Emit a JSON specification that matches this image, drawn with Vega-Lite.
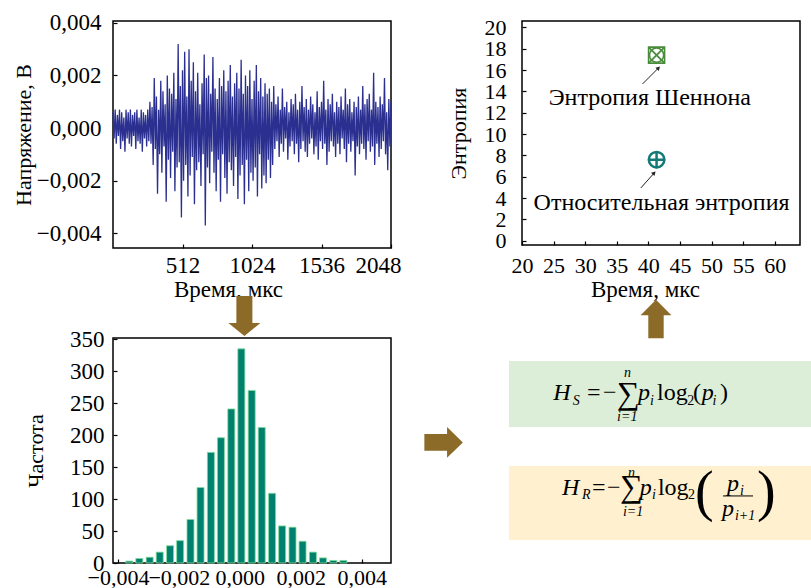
{
  "$schema": "https://vega.github.io/schema/vega-lite/v6.json",
  "background": "white",
  "padding": {"left": 11, "top": 11, "right": 0, "bottom": 0},
  "columns": 2,
  "spacing": {"row": 90, "column": 131},
  "bounds": "flush",
  "datasets": {
    "signal": [
      {"t":0,"v":0.0006},{"t":8,"v":-0.0004},{"t":16,"v":0.0007},{"t":24,"v":-0.0006},{"t":32,"v":0.0005},{"t":40,"v":-0.0003},{"t":48,"v":0.0007},{"t":56,"v":-0.0008},{"t":64,"v":0.0006},{"t":72,"v":-0.0005},{"t":80,"v":0.0004},{"t":88,"v":-0.0009},{"t":96,"v":0.0007},{"t":104,"v":-0.0004},{"t":112,"v":0.0006},{"t":120,"v":-0.0006},{"t":128,"v":0.0007},{"t":136,"v":-0.0007},{"t":144,"v":0.0005},{"t":152,"v":-0.0003},{"t":160,"v":0.0006},{"t":168,"v":-0.0008},{"t":176,"v":0.0007},{"t":184,"v":-0.0005},{"t":192,"v":0.0004},{"t":200,"v":-0.0006},{"t":208,"v":0.0007},{"t":216,"v":-0.0009},{"t":224,"v":0.0006},{"t":232,"v":-0.0004},{"t":240,"v":0.0005},{"t":248,"v":-0.0007},{"t":256,"v":0.0007},{"t":264,"v":-0.0005},
      {"t":272,"v":0.0010},{"t":280,"v":-0.0006},{"t":288,"v":0.0008},{"t":296,"v":-0.0014},{"t":304,"v":0.0019},{"t":312,"v":-0.0008},{"t":320,"v":0.0012},{"t":328,"v":-0.0025},{"t":336,"v":0.0007},{"t":344,"v":-0.0010},{"t":352,"v":0.0018},{"t":360,"v":-0.0017},{"t":368,"v":0.0014},{"t":376,"v":-0.0007},{"t":384,"v":0.0009},{"t":392,"v":-0.0028},{"t":400,"v":0.0020},{"t":408,"v":-0.0012},{"t":416,"v":0.0015},{"t":424,"v":-0.0019},{"t":432,"v":0.0013},{"t":440,"v":-0.0009},{"t":448,"v":0.0021},{"t":456,"v":-0.0024},{"t":464,"v":0.0011},{"t":472,"v":-0.0015},{"t":480,"v":0.0032},{"t":488,"v":-0.0013},
      {"t":496,"v":0.0016},{"t":504,"v":-0.0034},{"t":512,"v":0.0022},{"t":520,"v":-0.0020},{"t":528,"v":0.0029},{"t":536,"v":-0.0014},{"t":544,"v":0.0012},{"t":552,"v":-0.0026},{"t":560,"v":0.0030},{"t":568,"v":-0.0018},{"t":576,"v":0.0018},{"t":584,"v":-0.0011},{"t":592,"v":0.0025},{"t":600,"v":-0.0029},{"t":608,"v":0.0014},{"t":616,"v":-0.0016},{"t":624,"v":0.0021},{"t":632,"v":-0.0013},{"t":640,"v":0.0009},{"t":648,"v":-0.0022},{"t":656,"v":0.0017},{"t":664,"v":-0.0010},{"t":672,"v":0.0028},{"t":680,"v":-0.0037},{"t":688,"v":0.0019},
      {"t":696,"v":-0.0015},{"t":704,"v":0.0020},{"t":712,"v":-0.0021},{"t":720,"v":0.0013},{"t":728,"v":-0.0009},{"t":736,"v":0.0027},{"t":744,"v":-0.0017},{"t":752,"v":0.0015},{"t":760,"v":-0.0024},{"t":768,"v":0.0011},{"t":776,"v":-0.0012},{"t":784,"v":0.0019},{"t":792,"v":-0.0028},{"t":800,"v":0.0016},{"t":808,"v":-0.0010},{"t":816,"v":0.0022},{"t":824,"v":-0.0019},{"t":832,"v":0.0014},{"t":840,"v":-0.0025},{"t":848,"v":0.0018},{"t":856,"v":-0.0013},{"t":864,"v":0.0024},{"t":872,"v":-0.0016},{"t":880,"v":0.0012},{"t":888,"v":-0.0022},{"t":896,"v":0.0017},{"t":904,"v":-0.0011},{"t":912,"v":0.0021},{"t":920,"v":-0.0027},{"t":928,"v":0.0015},{"t":936,"v":-0.0018},{"t":944,"v":0.0026},{"t":952,"v":-0.0014},{"t":960,"v":0.0013},{"t":968,"v":-0.0029},{"t":976,"v":0.0020},{"t":984,"v":-0.0012},{"t":992,"v":0.0016},{"t":1000,"v":-0.0024},{"t":1008,"v":0.0022},{"t":1016,"v":-0.0017},{"t":1024,"v":0.0011},{"t":1032,"v":-0.0020},{"t":1040,"v":0.0018},{"t":1048,"v":-0.0015},{"t":1056,"v":0.0024},{"t":1064,"v":-0.0026},{"t":1072,"v":0.0014},{"t":1080,"v":-0.0010},{"t":1088,"v":0.0019},{"t":1096,"v":-0.0023},{"t":1104,"v":0.0012},{"t":1112,"v":-0.0018},{"t":1120,"v":0.0017},{"t":1128,"v":-0.0021},{"t":1136,"v":0.0013},{"t":1144,"v":-0.0012},{"t":1152,"v":0.0015},{"t":1160,"v":-0.0019},{"t":1168,"v":0.0010},{"t":1176,"v":-0.0014},{"t":1184,"v":0.0016},
      {"t":1192,"v":-0.0008},{"t":1200,"v":0.0009},{"t":1208,"v":-0.0005},{"t":1216,"v":0.0012},{"t":1224,"v":-0.0011},{"t":1232,"v":0.0007},{"t":1240,"v":-0.0006},{"t":1248,"v":0.0015},{"t":1256,"v":-0.0009},{"t":1264,"v":0.0008},{"t":1272,"v":-0.0004},{"t":1280,"v":0.0010},{"t":1288,"v":-0.0012},{"t":1296,"v":0.0006},{"t":1304,"v":-0.0007},{"t":1312,"v":0.0011},{"t":1320,"v":-0.0005},{"t":1328,"v":0.0009},{"t":1336,"v":-0.0010},{"t":1344,"v":0.0013},{"t":1352,"v":-0.0006},{"t":1360,"v":0.0007},{"t":1368,"v":-0.0013},{"t":1376,"v":0.0010},{"t":1384,"v":-0.0008},{"t":1392,"v":0.0016},{"t":1400,"v":-0.0005},{"t":1408,"v":0.0008},{"t":1416,"v":-0.0009},{"t":1424,"v":0.0011},{"t":1432,"v":-0.0011},{"t":1440,"v":0.0007},{"t":1448,"v":-0.0006},{"t":1456,"v":0.0012},{"t":1464,"v":-0.0004},{"t":1472,"v":0.0009},{"t":1480,"v":-0.0010},{"t":1488,"v":0.0006},{"t":1496,"v":-0.0007},{"t":1504,"v":0.0014},{"t":1512,"v":-0.0012},{"t":1520,"v":0.0008},{"t":1528,"v":-0.0005},{"t":1536,"v":0.0010},{"t":1544,"v":-0.0008},{"t":1552,"v":0.0018},{"t":1560,"v":-0.0006},{"t":1568,"v":0.0007},{"t":1576,"v":-0.0014},{"t":1584,"v":0.0011},{"t":1592,"v":-0.0009},{"t":1600,"v":0.0009},{"t":1608,"v":-0.0005},{"t":1616,"v":0.0013},{"t":1624,"v":-0.0007},{"t":1632,"v":0.0006},{"t":1640,"v":-0.0011},{"t":1648,"v":0.0010},{"t":1656,"v":-0.0006},{"t":1664,"v":0.0008},{"t":1672,"v":-0.0010},{"t":1680,"v":0.0012},{"t":1688,"v":-0.0004},{"t":1696,"v":0.0007},{"t":1704,"v":-0.0008},{"t":1712,"v":0.0015},{"t":1720,"v":-0.0013},{"t":1728,"v":0.0009},{"t":1736,"v":-0.0006},{"t":1744,"v":0.0011},{"t":1752,"v":-0.0009},{"t":1760,"v":0.0006},{"t":1768,"v":-0.0005},{"t":1776,"v":0.0010},{"t":1784,"v":-0.0018},{"t":1792,"v":0.0008},{"t":1800,"v":-0.0007},{"t":1808,"v":0.0012},{"t":1816,"v":-0.0010},{"t":1824,"v":0.0007},{"t":1832,"v":-0.0006},{"t":1840,"v":0.0016},{"t":1848,"v":-0.0008},{"t":1856,"v":0.0009},{"t":1864,"v":-0.0012},{"t":1872,"v":0.0011},{"t":1880,"v":-0.0005},{"t":1888,"v":0.0013},{"t":1896,"v":-0.0009},{"t":1904,"v":0.0007},{"t":1912,"v":-0.0007},{"t":1920,"v":0.0021},{"t":1928,"v":-0.0014},{"t":1936,"v":0.0010},{"t":1944,"v":-0.0006},{"t":1952,"v":0.0008},{"t":1960,"v":-0.0011},{"t":1968,"v":0.0012},{"t":1976,"v":-0.0008},{"t":1984,"v":0.0009},{"t":1992,"v":-0.0005},{"t":2000,"v":0.0019},{"t":2008,"v":-0.0010},{"t":2016,"v":0.0006},{"t":2024,"v":-0.0016},{"t":2032,"v":0.0011},{"t":2040,"v":-0.0007},{"t":2048,"v":0.0010}
    ],
    "hist": [
      {"b":-0.00363,"n":3},{"b":-0.00330,"n":7},{"b":-0.00296,"n":9},{"b":-0.00263,"n":17},{"b":-0.00229,"n":27},{"b":-0.00196,"n":35},{"b":-0.00162,"n":68},{"b":-0.00129,"n":118},{"b":-0.00095,"n":173},{"b":-0.00062,"n":196},{"b":-0.00028,"n":241},{"b":0.00005,"n":335},{"b":0.00039,"n":270},{"b":0.00072,"n":212},{"b":0.00106,"n":109},{"b":0.00139,"n":58},{"b":0.00173,"n":56},{"b":0.00206,"n":34},{"b":0.00240,"n":17},{"b":0.00273,"n":8},{"b":0.00307,"n":4},{"b":0.00340,"n":4}
    ],
    "downArrow": [{"b":0.00015,"n":386.5}],
    "shannon": [{"t":41.3,"H":17.4}],
    "relative": [{"t":41.3,"H":7.6}],
    "notes": [
      {"label":"Энтропия Шеннона","t":40.24,"H":13.4},
      {"label":"Относительная энтропия","t":42.09,"H":3.55}
    ],
    "pointers": [
      {"t":39.08,"H":14.7,"t2":41.61,"H2":16.2},
      {"t":38.81,"H":4.95,"t2":40.92,"H2":6.35}
    ],
    "pointerHeads": [{"t":41.61,"H":16.2},{"t":40.92,"H":6.35}],
    "boxes": [
      {"f":"Шеннон","u":-4.7,"u2":104.5,"v":60.4,"v2":89.8},
      {"f":"относительная","u":-4.7,"u2":104.5,"v":10.2,"v2":43.1}
    ],
    "arrows": [{"dir":"up","u":48.2,"v":108.4},{"dir":"right","u":-28.2,"v":53.6}],
    "fItalic": [
      {"s":"H","u":11.2,"v":72.4},{"s":"p","u":41.7,"v":72.4},{"s":"p","u":64.7,"v":72.4},
      {"s":"H","u":14.4,"v":30.4},{"s":"p","u":42.4,"v":30.4},{"s":"p","u":73.7,"v":32},{"s":"p","u":71.9,"v":20.9}
    ],
    "fItalicSub": [
      {"s":"S","u":18.3,"v":70.2},{"s":"i","u":46.0,"v":70.4},{"s":"i","u":68.5,"v":70.4},{"s":"n","u":36.7,"v":82.7},{"s":"i=1","u":34.2,"v":63.1},
      {"s":"R","u":21.6,"v":28.4},{"s":"i","u":46.8,"v":28.4},{"s":"i","u":78.4,"v":30.2},{"s":"i+1","u":76.6,"v":19.1},{"s":"n","u":38.1,"v":38.2},{"s":"i=1","u":36.3,"v":20.9}
    ],
    "fRoman": [
      {"s":"=","u":23.4,"v":72.4},{"s":"−","u":29.1,"v":72.4},{"s":"log","u":48.6,"v":72.4},{"s":"(","u":61.5,"v":72.4},{"s":")","u":71.2,"v":72.4},
      {"s":"=","u":25.2,"v":30.4},{"s":"−","u":30.6,"v":30.4},{"s":"log","u":48.9,"v":30.4}
    ],
    "fRomanSub": [{"s":"2","u":59.4,"v":70.4},{"s":"2","u":59.7,"v":28.4}],
    "fSum": [{"s":"∑","u":34.2,"v":70.7},{"s":"∑","u":35.3,"v":29.3}],
    "fParen": [{"s":"(","u":62.2,"v":23.6},{"s":")","u":84.5,"v":23.6}],
    "fLine": [{"u":72.3,"u2":83.1,"v":29.8}]
  },
  "concat": [
    {
      "width": 278, "height": 227,
      "data": {"name": "signal"},
      "mark": {"type": "line", "color": "#2b3090", "strokeWidth": 1.3},
      "encoding": {
        "x": {"field": "t", "type": "quantitative",
              "scale": {"domain": [0, 2048], "nice": false, "zero": false},
              "axis": {"title": "Время, мкс", "titleFontSize": 23, "labelFontSize": 23, "values": [512, 1024, 1536, 2048], "format": "d", "labelFlush": true, "labelFlushOffset": 10, "labelPadding": 10, "titlePadding": 1, "titleX": 115}},
        "y": {"field": "v", "type": "quantitative",
              "scale": {"domain": [-0.00456, 0.00407], "nice": false, "zero": false},
              "axis": {"title": "Напряжение, В", "labelFontSize": 23, "values": [-0.004, -0.002, 0, 0.002, 0.004], "format": ".3f", "labelExpr": "replace(datum.label, '.', ',')", "labelPadding": 16, "titlePadding": 1}}
      }
    },
    {
      "width": 278, "height": 224,
      "encoding": {
        "x": {"field": "t", "type": "quantitative",
              "scale": {"domain": [20, 64], "nice": false, "zero": false},
              "axis": {"title": "Время, мкс", "titleFontSize": 23, "values": [20, 25, 30, 35, 40, 45, 50, 55, 60], "labelPadding": 14, "titlePadding": 2, "titleX": 123}},
        "y": {"field": "H", "type": "quantitative",
              "scale": {"domain": [-0.4, 20.6], "nice": false, "zero": false},
              "axis": {"title": "Энтропия", "values": [0, 2, 4, 6, 8, 10, 12, 14, 16, 18, 20], "labelPadding": 20, "titlePadding": 14}}
      },
      "layer": [
        {"data": {"name": "shannon"}, "mark": {"type": "point", "shape": "square", "filled": false, "stroke": "#4a8c3c", "strokeWidth": 1.6, "size": 256, "opacity": 1}},
        {"data": {"name": "shannon"}, "mark": {"type": "point", "shape": "M-1,-1L1,1M1,-1L-1,1", "filled": false, "stroke": "#4a8c3c", "strokeWidth": 1.8, "size": 256, "opacity": 1}},
        {"data": {"name": "shannon"}, "mark": {"type": "point", "shape": "circle", "filled": false, "stroke": "#4a8c3c", "strokeWidth": 1.6, "size": 201, "opacity": 1}},
        {"data": {"name": "relative"}, "mark": {"type": "point", "shape": "circle", "filled": false, "stroke": "#137a78", "strokeWidth": 2.5, "size": 240, "opacity": 1}},
        {"data": {"name": "relative"}, "mark": {"type": "point", "shape": "M-1,0L1,0M0,-1L0,1", "filled": false, "stroke": "#137a78", "strokeWidth": 2.5, "size": 300, "opacity": 1}},
        {"data": {"name": "notes"}, "mark": {"type": "text", "fontSize": 24, "align": "center", "baseline": "middle", "color": "#000"},
         "encoding": {"text": {"field": "label"}}},
        {"data": {"name": "pointers"}, "mark": {"type": "rule", "color": "#222", "strokeWidth": 1},
         "encoding": {"x2": {"field": "t2"}, "y2": {"field": "H2"}}},
        {"data": {"name": "pointerHeads"}, "mark": {"type": "point", "shape": "triangle-up", "angle": 45, "filled": true, "color": "#222", "size": 22, "opacity": 1}}
      ]
    },
    {
      "width": 278, "height": 225,
      "encoding": {
        "x": {"field": "b", "type": "quantitative",
              "scale": {"domain": [-0.004, 0.0048], "nice": false, "zero": false},
              "axis": {"title": null, "values": [-0.004, -0.002, 0, 0.002, 0.004], "format": ".3f", "labelExpr": "replace(datum.label, '.', ',')", "labelPadding": 8}},
        "y": {"field": "n", "type": "quantitative",
              "scale": {"domain": [0, 352], "nice": false},
              "axis": {"title": "Частота", "labelFontSize": 23, "values": [0, 50, 100, 150, 200, 250, 300, 350], "labelPadding": 13, "titlePadding": 22}}
      },
      "layer": [
        {"data": {"name": "hist"}, "mark": {"type": "bar", "size": 7, "fill": "#00806e", "stroke": "#7fdc9a", "strokeWidth": 0.8}},
        {"data": {"name": "downArrow"}, "mark": {"type": "point", "shape": "M-0.4,-1L0.4,-1L0.4,0.35L0.8,0.35L0,1L-0.8,0.35L-0.4,0.35Z", "filled": true, "fill": "#8c6a27", "strokeWidth": 0, "size": 1600, "opacity": 1}}
      ]
    },
    {
      "width": 278, "height": 225,
      "view": {"stroke": null},
      "encoding": {
        "x": {"field": "u", "type": "quantitative", "scale": {"domain": [0, 100], "nice": false, "zero": false}, "axis": null},
        "y": {"field": "v", "type": "quantitative", "scale": {"domain": [0, 100], "nice": false, "zero": false}, "axis": null}
      },
      "layer": [
        {"data": {"name": "boxes"}, "mark": {"type": "rect"},
         "encoding": {"x2": {"field": "u2"}, "y2": {"field": "v2"},
                      "color": {"field": "f", "type": "nominal", "scale": {"domain": ["Шеннон", "относительная"], "range": ["#dceed8", "#fff0d0"]}, "legend": null}}},
        {"data": {"name": "arrows"}, "mark": {"type": "point", "filled": true, "fill": "#8c6a27", "strokeWidth": 0, "size": 1480, "opacity": 1},
         "encoding": {"shape": {"field": "dir", "type": "nominal", "scale": {"domain": ["up", "right"], "range": ["M-0.4,1L0.4,1L0.4,-0.2L0.8,-0.2L0,-1L-0.8,-0.2L-0.4,-0.2Z", "M-1,-0.44L0.18,-0.44L0.18,-0.8L1,0L0.18,0.8L0.18,0.44L-1,0.44Z"]}, "legend": null}}},
        {"data": {"name": "fItalic"}, "mark": {"type": "text", "fontStyle": "italic", "fontSize": 24, "align": "left", "baseline": "alphabetic", "color": "#000"},
         "encoding": {"text": {"field": "s"}}},
        {"data": {"name": "fItalicSub"}, "mark": {"type": "text", "fontStyle": "italic", "fontSize": 14, "align": "left", "baseline": "alphabetic", "color": "#000"},
         "encoding": {"text": {"field": "s"}}},
        {"data": {"name": "fRoman"}, "mark": {"type": "text", "fontSize": 24, "align": "left", "baseline": "alphabetic", "color": "#000"},
         "encoding": {"text": {"field": "s"}}},
        {"data": {"name": "fRomanSub"}, "mark": {"type": "text", "fontSize": 14, "align": "left", "baseline": "alphabetic", "color": "#000"},
         "encoding": {"text": {"field": "s"}}},
        {"data": {"name": "fSum"}, "mark": {"type": "text", "fontSize": 32, "align": "left", "baseline": "alphabetic", "color": "#000"},
         "encoding": {"text": {"field": "s"}}},
        {"data": {"name": "fParen"}, "mark": {"type": "text", "fontSize": 56, "align": "left", "baseline": "alphabetic", "color": "#000"},
         "encoding": {"text": {"field": "s"}}},
        {"data": {"name": "fLine"}, "mark": {"type": "rule", "color": "#000", "strokeWidth": 1},
         "encoding": {"x2": {"field": "u2"}}}
      ]
    }
  ],
  "config": {
    "font": "Liberation Serif",
    "text": {"font": "Liberation Serif"},
    "view": {"stroke": "#000", "strokeWidth": 1.5},
    "axis": {
      "labelFont": "Liberation Serif", "titleFont": "Liberation Serif",
      "labelFontSize": 22, "titleFontSize": 22, "titleFontWeight": "normal",
      "labelColor": "#000", "titleColor": "#000",
      "grid": false, "domain": false, "tickColor": "#000", "tickSize": -4, "tickWidth": 1.2,
      "labelFlush": false, "labelOverlap": false
    }
  }
}
